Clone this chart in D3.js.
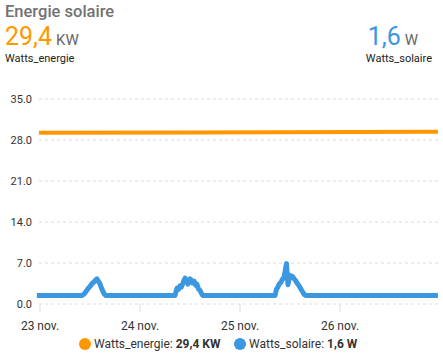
<!DOCTYPE html>
<html><head><meta charset="utf-8">
<script src="https://cdn.jsdelivr.net/npm/d3@7"></script>
<style>
body{margin:0;background:#fff;font-family:Roboto,"Noto Sans",sans-serif;}
svg{display:block;}
</style></head>
<body><svg id="c" width="443" height="364"></svg>
<script>
const title = "Energie solaire";
const seriesNames = ["Watts_energie", "Watts_solaire"];
const currentValues = ["29,4", "1,6"];
const units = ["KW", "W"];
const colors = ["#ff9800", "#3b97df"];
const yTicks = [0, 7, 14, 21, 28, 35];
const xTickDates = ["2023-11-23T00:00", "2023-11-24T00:00", "2023-11-25T00:00", "2023-11-26T00:00"];
const xTickLabels = ["23 nov.", "24 nov.", "25 nov.", "26 nov."];

const energieTimes = ["2023-11-22T23:45", "2023-11-24T12:00", "2023-11-26T23:30"];
const energieValues = [29.25, 29.3, 29.4];

const solaireTimes = [
 "2023-11-22T23:15","2023-11-23T10:05","2023-11-23T10:35","2023-11-23T11:00","2023-11-23T11:30","2023-11-23T12:00","2023-11-23T12:30","2023-11-23T13:00","2023-11-23T13:20","2023-11-23T13:40","2023-11-23T14:00","2023-11-23T14:25","2023-11-23T14:45","2023-11-23T15:05","2023-11-23T15:25","2023-11-23T15:50",
 "2023-11-24T08:25","2023-11-24T08:40","2023-11-24T08:55","2023-11-24T09:15","2023-11-24T09:35","2023-11-24T09:55","2023-11-24T10:20","2023-11-24T10:35","2023-11-24T10:50","2023-11-24T11:05","2023-11-24T11:15","2023-11-24T11:30","2023-11-24T11:45","2023-11-24T12:00","2023-11-24T12:15","2023-11-24T12:35","2023-11-24T13:00","2023-11-24T13:20","2023-11-24T13:40","2023-11-24T14:00","2023-11-24T14:25","2023-11-24T14:45","2023-11-24T15:05",
 "2023-11-25T08:25","2023-11-25T08:45","2023-11-25T09:05","2023-11-25T09:25","2023-11-25T09:50","2023-11-25T10:10","2023-11-25T10:35","2023-11-25T10:50","2023-11-25T11:00","2023-11-25T11:10","2023-11-25T11:15","2023-11-25T11:30","2023-11-25T11:45","2023-11-25T12:00","2023-11-25T12:15","2023-11-25T12:35","2023-11-25T13:00","2023-11-25T13:20","2023-11-25T13:40","2023-11-25T14:00","2023-11-25T14:25","2023-11-25T14:45","2023-11-25T15:05","2023-11-25T15:25","2023-11-25T15:50",
 "2023-11-26T23:30"];
const solaireValues = [
 1.45,1.45,1.7,2.1,2.6,3.0,3.5,3.8,4.1,4.3,3.9,3.4,2.7,2.2,1.7,1.45,
 1.45,2.2,2.7,2.5,3.1,2.9,3.6,4.1,4.4,3.8,4.0,3.4,3.7,4.3,4.1,3.6,3.9,3.2,3.4,2.6,2.3,1.8,1.45,
 1.45,2.5,2.9,3.4,3.7,4.2,4.6,5.6,6.3,6.9,5.8,3.3,4.2,4.9,4.5,4.7,4.3,4.0,3.6,3.3,2.8,2.4,2.0,1.6,1.45,
 1.45];

const parse = d3.timeParse("%Y-%m-%dT%H:%M");
const svg = d3.select("#c");

const x = d3.scaleTime()
  .domain([parse("2023-11-23T00:00"), parse("2023-11-27T00:00")])
  .range([40, 440]);
const y = d3.scaleLinear().domain([0, 35]).range([304, 99]);

// header
svg.append("text").attr("x", 5).attr("y", 16.5).attr("font-size", 16.5).attr("font-weight", 500).attr("fill", "#727272").text(title);
const h1 = svg.append("text").attr("x", 5).attr("y", 45);
h1.append("tspan").attr("font-size", 25).attr("fill", colors[0]).text(currentValues[0]);
h1.append("tspan").attr("font-size", 15).attr("fill", "#666").attr("dx", 4).text(units[0]);
svg.append("text").attr("x", 5).attr("y", 62).attr("font-size", 11).attr("fill", "#222").text(seriesNames[0]);

const h2 = svg.append("text").attr("x", 418).attr("y", 45).attr("text-anchor", "end");
h2.append("tspan").attr("font-size", 25).attr("fill", colors[1]).text(currentValues[1]);
h2.append("tspan").attr("font-size", 15).attr("fill", "#666").attr("dx", 4).text(units[1]);
svg.append("text").attr("x", 432).attr("y", 62).attr("font-size", 11).attr("fill", "#222").attr("text-anchor", "end").text(seriesNames[1]);

// grid + y labels
const yAxis = svg.append("g");
yTicks.forEach(t => {
  yAxis.append("line").attr("x1", 39).attr("x2", 439).attr("y1", y(t)).attr("y2", y(t))
    .attr("stroke", "#dcdcdc").attr("stroke-dasharray", "3,3");
  yAxis.append("text").attr("x", 32).attr("y", y(t) + 4).attr("text-anchor", "end")
    .attr("font-size", 11).attr("fill", "#333").text(d3.format(".1f")(t));
});

// x axis
const xAxis = svg.append("g");
xTickDates.forEach((d, i) => {
  const px = x(parse(d));
  xAxis.append("line").attr("x1", px).attr("x2", px).attr("y1", 304).attr("y2", 312).attr("stroke", "#ddd");
  xAxis.append("text").attr("x", px).attr("y", 330).attr("text-anchor", "middle")
    .attr("font-size", 12).attr("fill", "#333").text(xTickLabels[i]);
});

// lines
const line = d3.line().x(d => x(d[0])).y(d => y(d[1]));
const eData = energieTimes.map((t, i) => [parse(t), energieValues[i]]);
const sData = solaireTimes.map((t, i) => [parse(t), solaireValues[i]]);
svg.append("path").datum(eData).attr("d", line).attr("fill", "none").attr("stroke", colors[0]).attr("stroke-width", 4);
svg.append("path").datum(sData).attr("d", line).attr("fill", "none").attr("stroke", colors[1]).attr("stroke-width", 5).attr("stroke-linejoin", "round");

// legend
const leg = [[85, 94, 0], [240, 249, 1]];
leg.forEach(([cx, tx, i]) => {
  svg.append("circle").attr("cx", cx).attr("cy", 344).attr("r", 6).attr("fill", colors[i]);
  const t = svg.append("text").attr("x", tx).attr("y", 348).attr("font-size", 12).attr("fill", "#333");
  t.append("tspan").text(seriesNames[i] + ": ");
  t.append("tspan").attr("font-weight", "bold").text(currentValues[i] + " " + units[i]);
});
</script></body></html>
